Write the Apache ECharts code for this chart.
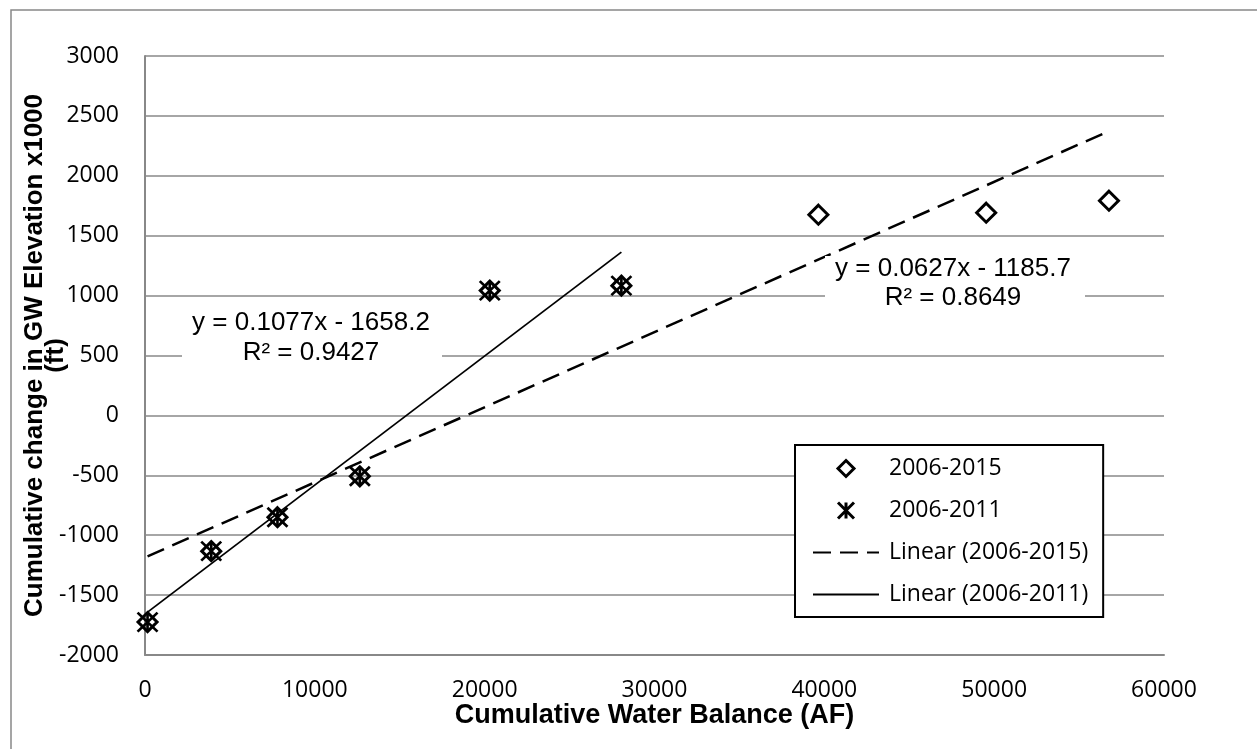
<!DOCTYPE html>
<html>
<head>
<meta charset="utf-8">
<script src="https://cdn.jsdelivr.net/npm/echarts@6/dist/echarts.min.js"></script>
<style>
html,body{margin:0;padding:0;background:#fff;}
#chart{width:1257px;height:749px;}
</style>
</head>
<body>
<div id="chart"></div>
<script>
// ---- data ----
const seriesNames = ['2006-2015', '2006-2011', 'Linear (2006-2015)', 'Linear (2006-2011)'];
const x2011 = [150, 3900, 7800, 12650, 20300, 28050];
const y2011 = [-1725, -1133, -850, -508, 1042, 1083];
const x2015 = [150, 3900, 7800, 12650, 20300, 28050, 39650, 49530, 56760];
const y2015 = [-1725, -1133, -850, -508, 1042, 1083, 1675, 1692, 1792];
// trendline coefficients as printed on the chart
const trend2015 = [0.0627, -1185.7, 0.8649]; // slope, intercept, R2
const trend2011 = [0.1077, -1658.2, 0.9427];
const xTicks = [0, 10000, 20000, 30000, 40000, 50000, 60000];
const yTicks = [-2000, -1500, -1000, -500, 0, 500, 1000, 1500, 2000, 2500, 3000];
const xTitle = 'Cumulative Water Balance (AF)';
const yTitle = 'Cumulative change in GW Elevation x1000\n(ft)';

const pts = (xs, ys) => xs.map((x, i) => [x, ys[i]]);
const trendLine = (xs, c) => {
  const lo = Math.min(...xs), hi = Math.max(...xs);
  return [[lo, c[0] * lo + c[1]], [hi, c[0] * hi + c[1]]];
};
const eqText = c => 'y = ' + c[0] + 'x - ' + Math.abs(c[1]) + '\nR\u00b2 = ' + c[2];

const grey = '#888888';
const asterisk = 'path://M0,0L20,20M20,0L0,20M10,0L10,20';
const diamond = 'path://M10,0L20,10L10,20L0,10Z';

const chart = echarts.init(document.getElementById('chart'), null, {renderer: 'canvas'});
const option = {
  backgroundColor: '#fff',
  animation: false,
  grid: {left: 145, right: 93, top: 56, bottom: 94, containLabel: false, outerBoundsMode: 'none'},
  xAxis: {
    type: 'value', min: xTicks[0], max: xTicks[xTicks.length - 1], interval: 10000,
    name: xTitle, nameLocation: 'middle', nameGap: 47, nameMoveOverlap: false,
    nameTextStyle: {fontFamily: 'Liberation Sans', fontWeight: 'bold', fontSize: 27, color: '#000'},
    axisLine: {show: true, onZero: false, lineStyle: {color: grey, width: 2}},
    axisTick: {show: false},
    splitLine: {show: false},
    axisLabel: {fontFamily: 'Open Sans', fontSize: 23, color: '#000', margin: 24, formatter: v => String(v)}
  },
  yAxis: {
    type: 'value', min: yTicks[0], max: yTicks[yTicks.length - 1], interval: 500,
    name: yTitle, nameLocation: 'middle', nameGap: 79, nameRotate: 90, nameMoveOverlap: false,
    nameTextStyle: {fontFamily: 'Liberation Sans', fontWeight: 'bold', fontSize: 26, color: '#000', lineHeight: 21, align: 'center'},
    axisLine: {show: true, onZero: false, lineStyle: {color: grey, width: 2}},
    axisTick: {show: false},
    splitLine: {show: true, lineStyle: {color: grey, width: 1.5}},
    axisLabel: {fontFamily: 'Open Sans', fontSize: 23, color: '#000', margin: 26, formatter: v => String(v)}
  },
  legend: {
    orient: 'vertical', left: 795, top: 445,
    backgroundColor: '#fff', borderColor: '#000', borderWidth: 2,
    padding: [12, 15, 11, 17],
    itemWidth: 66, itemHeight: 16, itemGap: 19,
    symbolKeepAspect: true,
    textStyle: {fontFamily: 'Open Sans', fontSize: 23, color: '#000', lineHeight: 20, padding: [0, 0, 0, 5]},
    data: [
      {name: seriesNames[0], itemStyle: {borderColor: '#000', borderWidth: 3}},
      {name: seriesNames[1], itemStyle: {borderColor: '#000', borderWidth: 3}},
      {name: seriesNames[2]},
      {name: seriesNames[3]}
    ]
  },
  series: [
    {
      name: seriesNames[0], type: 'scatter', data: pts(x2015, y2015),
      symbol: diamond, symbolSize: 19, symbolKeepAspect: true,
      itemStyle: {color: 'rgba(0,0,0,0)', borderColor: '#000', borderWidth: 3, opacity: 1}, z: 3
    },
    {
      name: seriesNames[1], type: 'scatter', data: pts(x2011, y2011),
      symbol: asterisk, symbolSize: [20, 19], symbolKeepAspect: true,
      itemStyle: {color: 'rgba(0,0,0,0)', borderColor: '#000', borderWidth: 2.6, opacity: 1}, z: 4
    },
    {
      name: seriesNames[2], type: 'line', data: trendLine(x2015, trend2015),
      symbol: 'circle', symbolSize: 0, showSymbol: false, silent: true,
      lineStyle: {color: '#000', width: 2.5, type: [18, 9]},
      itemStyle: {color: 'rgba(0,0,0,0)', borderWidth: 0}, z: 2
    },
    {
      name: seriesNames[3], type: 'line', data: trendLine(x2011, trend2011),
      symbol: 'circle', symbolSize: 0, showSymbol: false, silent: true,
      lineStyle: {color: '#000', width: 1.8, type: 'solid'},
      itemStyle: {color: 'rgba(0,0,0,0)', borderWidth: 0}, z: 2
    }
  ],
  graphic: [
    {type: 'rect', silent: true, z: -1, shape: {x: 11, y: 10, width: 1300, height: 800},
     style: {fill: 'none', stroke: grey, lineWidth: 1.5}},
    {type: 'rect', z: 10, shape: {x: 182, y: 306, width: 260, height: 62}, style: {fill: '#fff'}},
    {type: 'text', z: 11, x: 311, y: 338,
     style: {text: eqText(trend2011), font: '26px "Liberation Sans"', fill: '#000', align: 'center', verticalAlign: 'middle', lineHeight: 30}},
    {type: 'rect', z: 10, shape: {x: 825, y: 256, width: 260, height: 55}, style: {fill: '#fff'}},
    {type: 'text', z: 11, x: 953, y: 283,
     style: {text: eqText(trend2015), font: '26px "Liberation Sans"', fill: '#000', align: 'center', verticalAlign: 'middle', lineHeight: 29}}
  ]
};
chart.setOption(option);
</script>
</body>
</html>
